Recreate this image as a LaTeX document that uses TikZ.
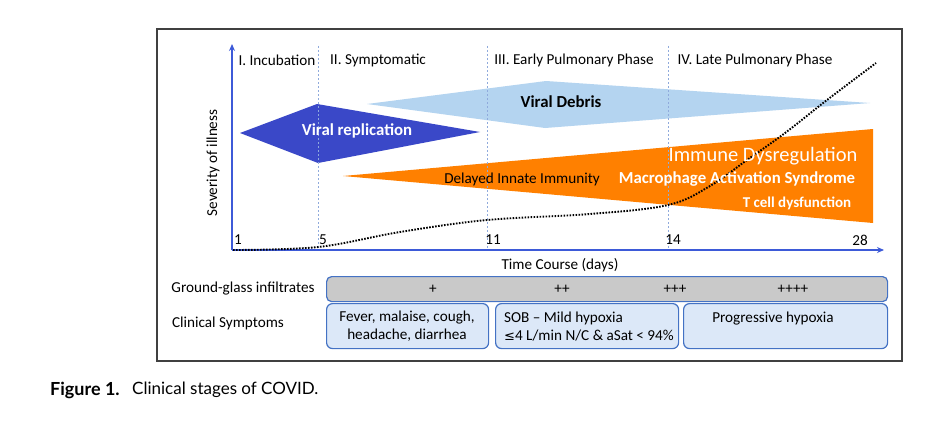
\documentclass[tikz,border=0pt]{standalone}
\usepackage{fontspec}
\setmainfont{Carlito}
\newfontfamily\capfont{Lato}
\newfontfamily\symfont{DejaVu Sans}
\usetikzlibrary{arrows.meta}
\definecolor{dblue}{HTML}{3A48C8}
\definecolor{lblue}{HTML}{B4D4F0}
\definecolor{orng}{HTML}{FF8000}
\definecolor{axblue}{HTML}{3D5AD8}
\definecolor{dashblue}{HTML}{8FAADC}
\definecolor{boxblue}{HTML}{4472C4}
\definecolor{boxfill}{HTML}{DCE8F8}
\definecolor{gfill}{HTML}{C9C9C9}
\definecolor{framegray}{HTML}{404040}
\tikzset{
  frame/.style={draw=framegray, line width=1.1pt},
  vdash/.style={draw=dashblue, line width=0.7pt, dash pattern=on 2pt off 2pt},
  axis/.style={draw=axblue, line width=1.6pt, -{Stealth[length=7pt,width=6pt]}},
  txt/.style={inner sep=0pt, font=\fontsize{15.2}{18}\selectfont},
  bigtxt/.style={inner sep=0pt, font=\fontsize{20.5}{24}\selectfont},
  boldtxt/.style={inner sep=0pt, font=\bfseries\fontsize{16.8}{19}\selectfont},
  curve/.style={draw=black, line width=1.9pt, dash pattern=on 1.6pt off 1.4pt},
  gbox/.style={draw=boxblue, fill=gfill, line width=1.2pt, rounded corners=5pt, inner sep=0pt},
  sbox/.style={draw=boxblue, fill=boxfill, line width=1.2pt, rounded corners=6pt, inner sep=0pt},
}
\begin{document}
\begin{tikzpicture}[x=1pt,y=-1pt]
\useasboundingbox (0,0) rectangle (933,428);
\fill[white] (0,0) rectangle (933,428);
\draw[frame] (157,29) rectangle (902,361);

% shapes
\fill[lblue] (367,104) -- (546,81) -- (870,103) -- (545,128) -- cycle;
\fill[dblue] (240,133) -- (317,104) -- (480,132) -- (318,163) -- cycle;
\fill[orng] (343,176) -- (873,129) -- (873,223) -- cycle;

% dashed phase separators
\coordinate (d5t) at (318,46); \coordinate (d5b) at (318,250);
\coordinate (d11t) at (487,46); \coordinate (d11b) at (487,250);
\coordinate (d14t) at (668,46); \coordinate (d14b) at (668,250);
\draw[vdash] (d5t) -- (d5b);
\draw[vdash] (d11t) -- (d11b);
\draw[vdash] (d14t) -- (d14b);

% axes
\coordinate (o) at (232,250);
\coordinate (ytop) at (232,44);
\coordinate (xend) at (884,250);
\draw[axis] (o) -- (ytop);
\draw[axis] (o) -- (xend);

% severity curve
\draw[curve] plot[smooth, tension=0.6] coordinates {(233,250) (318,247) (400,232) (487,220) (590,214) (668,205) (710,186) (747,160) (785,133) (827,100) (876,63)};

% phase labels
\node[txt] (p1) at (277,60) {I. Incubation};
\node[txt] (p2) at (378,60) {II. Symptomatic};
\node[txt] (p3) at (574,60) {III. Early Pulmonary Phase};
\node[txt] (p4) at (755,60) {IV. Late Pulmonary Phase};

% tick labels
\node[txt] (t1) at (238,240) {1};
\node[txt] (t5) at (323,240) {5};
\node[txt] (t11) at (493,240) {11};
\node[txt] (t14) at (673,240) {14};
\node[txt] (t28) at (860,240) {28};

% axis titles
\node[txt, rotate=90] (sev) at (213,163) {Severity of illness};
\node[txt] (time) at (560,265) {Time Course (days)};

% shape labels
\node[boldtxt, text=white] (vr) at (357,131) {Viral replication};
\node[boldtxt, text=black] (vd) at (561,102) {Viral Debris};
\node[bigtxt, text=white] (id) at (763,156) {Immune Dysregulation};
\node[txt, text=black] (dii) at (522,179) {Delayed Innate Immunity};
\node[boldtxt, text=white] (mas) at (737,179) {Macrophage Activation Syndrome};
\node[boldtxt, text=white, font=\bfseries\fontsize{15}{17}\selectfont] (tcd) at (797,203) {T cell dysfunction};

% lower table
\node[txt] (ggl) at (243,289) {Ground-glass infiltrates};
\node[txt] (csl) at (228,323) {Clinical Symptoms};
\node[gbox, minimum width=561pt, minimum height=25pt, anchor=north west] (gg) at (326,276) {};
\node[txt] (g1) at (433,289) {+};
\node[txt] (g2) at (562,289) {++};
\node[txt] (g3) at (675,289) {+++};
\node[txt] (g4) at (793,289) {++++};

\node[sbox, minimum width=162pt, minimum height=45pt, anchor=north west] (cs1) at (326,303) {};
\node[sbox, minimum width=183pt, minimum height=45pt, anchor=north west] (cs2) at (495,303) {};
\node[sbox, minimum width=204pt, minimum height=45pt, anchor=north west] (cs3) at (683,303) {};
\node[txt, align=center, font=\fontsize{15.2}{18}\selectfont] (cs1t) at (407,326) {Fever, malaise, cough,\\headache, diarrhea};
\node[txt, align=left, anchor=west, font=\fontsize{15.2}{18}\selectfont] (cs2t) at (504,327) {SOB -- Mild hypoxia\\{\symfont\fontsize{13}{15}\selectfont≤}4 L/min N/C \& aSat < 94\%};
\node[txt] (cs3t) at (773,319) {Progressive hypoxia};

% caption
\node[inner sep=0pt, anchor=west, font=\capfont\bfseries\fontsize{18}{20}\selectfont] (figl) at (50,390) {Figure 1.};
\node[inner sep=0pt, anchor=west, font=\capfont\fontsize{17}{19}\selectfont] (figc) at (132,390) {Clinical stages of COVID.};
\end{tikzpicture}
\end{document}
